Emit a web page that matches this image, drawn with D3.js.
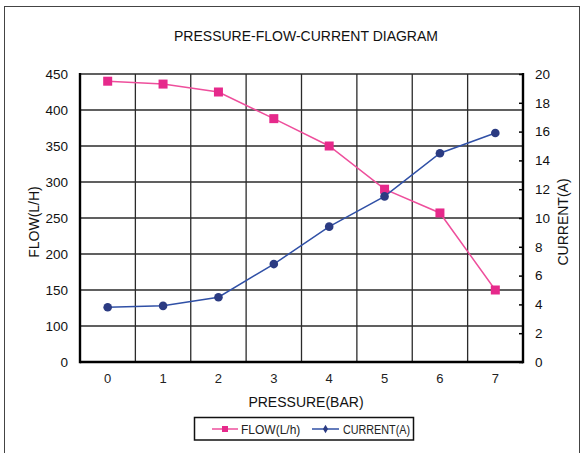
<!DOCTYPE html>
<html>
<head>
<meta charset="utf-8">
<script src="https://cdn.jsdelivr.net/npm/d3@7"></script>
<style>
  html, body { margin: 0; padding: 0; background: #fff; }
  svg { display: block; font-family: "Liberation Sans", Arial, sans-serif; }
</style>
</head>
<body>
<svg id="chart" width="588" height="453"></svg>
<script>
// ---- data ----
const pressure = ["0", "1", "2", "3", "4", "5", "6", "7"];
const flowValues = [440, 436, 425, 388, 350, 290, 257, 150];
const currentValues = [3.8, 3.9, 4.5, 6.8, 9.4, 11.5, 14.5, 15.9];
const flowTickValues = [50, 100, 150, 200, 250, 300, 350, 400, 450];
const flowTickLabels = ["0", "100", "150", "200", "250", "300", "350", "400", "450"];
const currentTickValues = [0, 2, 4, 6, 8, 10, 12, 14, 16, 18, 20];

const titleText = "PRESSURE-FLOW-CURRENT DIAGRAM";
const xTitle = "PRESSURE(BAR)";
const yLeftTitle = "FLOW(L/H)";
const yRightTitle = "CURRENT(A)";
const legendFlow = "FLOW(L/h)";
const legendCurrent = "CURRENT(A)";

// ---- layout ----
const L = 80, R = 523, T = 74, B = 362;
const flowColor = "#ee4f9c", flowMarker = "#e6298b";
const curColor = "#3050a6", curMarker = "#2b3b82";

const svg = d3.select("#chart");

// outer frame
svg.append("rect").attr("x", 4.5).attr("y", 6.5).attr("width", 575).attr("height", 470)
  .attr("fill", "none").attr("stroke", "#444").attr("stroke-width", 1);

const x = d3.scaleBand().domain(pressure).range([L, R]).padding(0);
const yFlow = d3.scaleLinear().domain([50, 450]).range([B, T]);
const yCur = d3.scaleLinear().domain([0, 20]).range([B, T]);

// title
svg.append("text").attr("x", 306).attr("y", 41).attr("text-anchor", "middle")
  .attr("font-size", 14).attr("fill", "#111").text(titleText);

// horizontal gridlines
svg.append("g").selectAll("line").data(flowTickValues).join("line")
  .attr("x1", L).attr("x2", R)
  .attr("y1", d => yFlow(d)).attr("y2", d => yFlow(d))
  .attr("stroke", "#2b2b2b").attr("stroke-width", 1.5);

// vertical gridlines (band boundaries)
svg.append("g").selectAll("line").data(pressure.slice(1)).join("line")
  .attr("x1", d => x(d)).attr("x2", d => x(d))
  .attr("y1", T).attr("y2", B)
  .attr("stroke", "#2b2b2b").attr("stroke-width", 1.3);

// left axis (labels only)
const leftAxis = d3.axisLeft(yFlow).tickValues(flowTickValues)
  .tickFormat((d, i) => flowTickLabels[i]).tickSize(0).tickPadding(12);
const gL = svg.append("g").attr("transform", `translate(${L},0)`).call(leftAxis);
gL.select(".domain").remove();
gL.selectAll("text").attr("font-size", 13.5).attr("fill", "#111")
  .attr("font-family", "Liberation Sans, Arial, sans-serif");

// right axis
const rightAxis = d3.axisRight(yCur).tickValues(currentTickValues)
  .tickSizeInner(-4).tickSizeOuter(0).tickPadding(12);
const gR = svg.append("g").attr("transform", `translate(${R},0)`).call(rightAxis);
gR.select(".domain").remove();
gR.selectAll(".tick line").attr("stroke", "#000").attr("stroke-width", 1.5);
gR.selectAll("text").attr("font-size", 13.5).attr("fill", "#111")
  .attr("font-family", "Liberation Sans, Arial, sans-serif");

// bottom axis labels
const bottomAxis = d3.axisBottom(x).tickSize(0).tickPadding(12);
const gB = svg.append("g").attr("transform", `translate(0,${B})`).call(bottomAxis);
gB.select(".domain").remove();
gB.selectAll("text").attr("font-size", 13).attr("fill", "#222")
  .attr("font-family", "Liberation Sans, Arial, sans-serif");

// frame axis lines
svg.append("line").attr("x1", L).attr("x2", L).attr("y1", T - 1).attr("y2", B + 1.2)
  .attr("stroke", "#000").attr("stroke-width", 2.4);
svg.append("line").attr("x1", R).attr("x2", R).attr("y1", T - 1).attr("y2", B + 1.2)
  .attr("stroke", "#000").attr("stroke-width", 2.4);
svg.append("line").attr("x1", L).attr("x2", R).attr("y1", B).attr("y2", B)
  .attr("stroke", "#000").attr("stroke-width", 2.4);

// axis titles
svg.append("text").attr("x", 306).attr("y", 407).attr("text-anchor", "middle")
  .attr("font-size", 14).attr("fill", "#111").text(xTitle);
svg.append("text").attr("transform", "translate(39,222) rotate(-90)")
  .attr("text-anchor", "middle").attr("font-size", 14).attr("fill", "#111").text(yLeftTitle);
svg.append("text").attr("transform", "translate(568,222) rotate(-90)")
  .attr("text-anchor", "middle").attr("font-size", 14).attr("fill", "#111").text(yRightTitle);

const cx = d => x(d) + x.bandwidth() / 2;

// flow series
const flowData = pressure.map((p, i) => ({ p, v: flowValues[i] }));
svg.append("path").datum(flowData)
  .attr("fill", "none").attr("stroke", flowColor).attr("stroke-width", 1.5)
  .attr("d", d3.line().x(d => cx(d.p)).y(d => yFlow(d.v)));
svg.append("g").selectAll("rect").data(flowData).join("rect")
  .attr("x", d => cx(d.p) - 4.5).attr("y", d => yFlow(d.v) - 4.5)
  .attr("width", 9).attr("height", 9).attr("fill", flowMarker);

// current series
const curData = pressure.map((p, i) => ({ p, v: currentValues[i] }));
svg.append("path").datum(curData)
  .attr("fill", "none").attr("stroke", curColor).attr("stroke-width", 1.5)
  .attr("d", d3.line().x(d => cx(d.p)).y(d => yCur(d.v)));
svg.append("g").selectAll("circle").data(curData).join("circle")
  .attr("cx", d => cx(d.p)).attr("cy", d => yCur(d.v)).attr("r", 4.3)
  .attr("fill", curMarker);

// legend
const lg = svg.append("g");
lg.append("rect").attr("x", 194.5).attr("y", 417.5).attr("width", 219).attr("height", 22.5)
  .attr("fill", "#fff").attr("stroke", "#111").attr("stroke-width", 1.5);
lg.append("line").attr("x1", 212).attr("x2", 238).attr("y1", 429).attr("y2", 429)
  .attr("stroke", flowColor).attr("stroke-width", 1.5);
lg.append("rect").attr("x", 222).attr("y", 426).attr("width", 6).attr("height", 6).attr("fill", flowMarker);
lg.append("text").attr("x", 241).attr("y", 433.5).attr("font-size", 12).attr("fill", "#222").text(legendFlow);
lg.append("line").attr("x1", 312).attr("x2", 339).attr("y1", 429).attr("y2", 429)
  .attr("stroke", curColor).attr("stroke-width", 1.5);
lg.append("path").attr("d", d3.symbol().type(d3.symbolDiamond).size(22)())
  .attr("transform", "translate(325.5,429)").attr("fill", curMarker);
lg.append("text").attr("x", 343).attr("y", 433.5).attr("font-size", 12)
  .attr("textLength", 67).attr("lengthAdjust", "spacingAndGlyphs")
  .attr("fill", "#222").text(legendCurrent);
</script>
</body>
</html>
